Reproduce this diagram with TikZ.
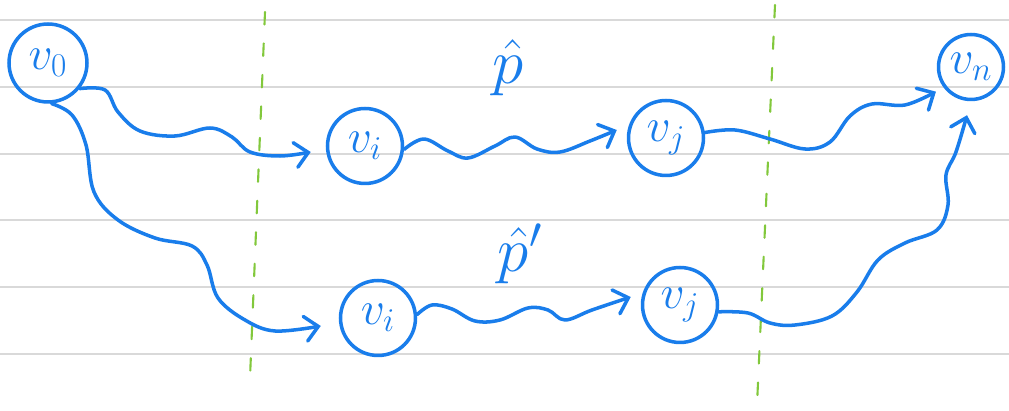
\RequirePackage{fix-cm}
\documentclass[tikz,border=0pt]{standalone}
\usepackage{amsmath}
\usetikzlibrary{arrows.meta}
\definecolor{ink}{RGB}{25,125,235}
\definecolor{cguide}{RGB}{130,200,60}
\tikzset{
  vert/.style={circle,draw=ink,line width=2pt,minimum size=1.5cm,inner sep=0pt,
    text=ink,font=\fontsize{27}{29}\selectfont},
  wire/.style={draw=ink,line width=2pt,line cap=round,line join=round,
    -{Straight Barb[length=2.6mm,width=5mm,line cap=round]}},
  rule/.style={draw=gray!30,line width=0.8pt},
  guide/.style={draw=cguide,line width=1.2pt,line cap=round,dash pattern=on 0.25cm off 0.38cm},
  lab/.style={text=ink,font=\fontsize{36}{38}\selectfont}
}

\begin{document}
\begin{tikzpicture}[x=0.02cm,y=-0.02cm]
  \useasboundingbox (0,0) rectangle (1009,411);
  % notebook rules
  \foreach \y in {20,87,154,220,287,354} \draw[rule] (0,\y) -- (1009,\y);
  % cut lines
  \draw[guide] (265,12) -- (250,378);
  \draw[guide] (775,5) -- (757,405);

  \node[vert,minimum size=1.56cm] (v0) at (48,63) {$v_0$};
  \node[vert,minimum size=1.3cm] (vn) at (971,67) {$v_n$};
  \node[vert] (vi1) at (365,146) {$v_i$};
  \node[vert] (vj1) at (666,138) {$v_j$};
  \node[vert] (vi2) at (378,318) {$v_i$};
  \node[vert] (vj2) at (680,305) {$v_j$};

  \node[lab] (p1) at (508,68) {$\hat{p}$};
  \node[lab] (p2) at (520,254) {$\hat{p}'$};

  % upper path
  \draw[wire] plot[smooth,tension=0.6] coordinates {(v0.-39) (105,90) (118,112) (140,131)
    (175,136) (210,128) (232,137) (250,152) (280,156) ([shift={(-0.3cm,-0.12cm)}]vi1.west)};
  \draw[wire] plot[smooth,tension=0.6] coordinates {(vi1.-5) (424,139) (448,151) (468,158)
    (495,146) (515,137) (537,149) (560,152) (590,141) ([shift={(-0.2cm,0.16cm)}]vj1.west)};
  \draw[wire] plot[smooth,tension=0.6] coordinates {(vj1.8) (735,130) (770,139) (805,149)
    (830,142) (850,116) (872,104) (905,105) ([shift={(-0.14cm,-0.1cm)}]vn.215)};
  % lower path
  \draw[wire] plot[smooth,tension=0.6] coordinates {(v0.-85) (72,115) (86,145) (94,192)
    (118,220) (155,238) (192,246) (207,265) (218,298) (245,320) (275,331)
    ([shift={(-0.36cm,-0.16cm)}]vi2.west)};
  \draw[wire] plot[smooth,tension=0.6] coordinates {(vi2.5) (432,305) (452,309) (475,321)
    (500,320) (528,308) (548,310) (565,320) (592,310) ([shift={(-0.2cm,0.16cm)}]vj2.west)};
  \draw[wire] plot[smooth,tension=0.6] coordinates {(vj2.-10) (748,313) (770,323) (795,325)
    (832,316) (857,292) (878,260) (905,243) (937,230) (948,205) (946,175) (956,152)
    ([shift={(-0.08cm,-0.28cm)}]vn.south)};
\end{tikzpicture}
\end{document}
